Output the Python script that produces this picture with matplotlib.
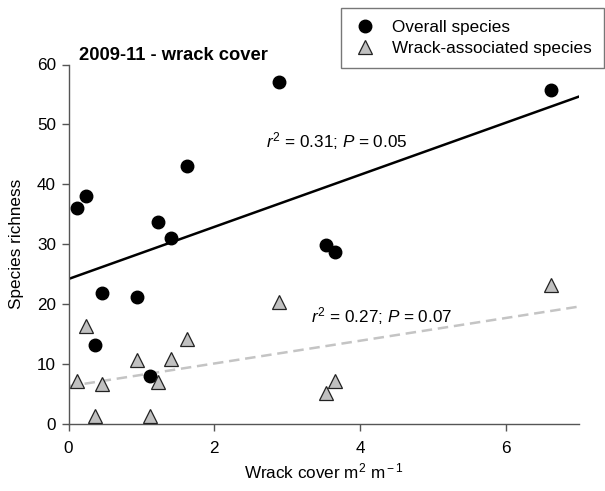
import numpy as np
import matplotlib
matplotlib.use("Agg")
import matplotlib.pyplot as plt

plt.rcParams['font.family'] = ['Liberation Sans', 'DejaVu Sans']
plt.rcParams['mathtext.fontset'] = 'custom'
plt.rcParams['mathtext.rm'] = 'Liberation Sans'
plt.rcParams['mathtext.it'] = 'Liberation Sans:italic'

# wrack cover (m2 m-1) per site
wrack_cover = [0.12, 0.24, 2.88, 1.63, 1.23, 1.40, 3.53, 3.66, 0.46, 0.94, 0.36, 1.12, 6.61]
# species richness at the same sites
overall_species = [36.1, 38.0, 57.1, 43.1, 33.7, 31.1, 29.9, 28.7, 21.9, 21.2, 13.2, 8.0, 55.8]
wrack_species = [7.2, 16.4, 20.4, 14.2, 6.95, 10.8, 5.2, 7.2, 6.7, 10.7, 1.4, 1.4, 23.2]

# regression lines as drawn (intercept, slope)
overall_fit = (24.2, 4.35)
wrack_fit = (6.3, 1.9)

overall_stats = "$\\it{r}^{\\rm 2}$ = 0.31; $\\it{P}$ = 0.05"
wrack_stats = "$\\it{r}^{\\rm 2}$ = 0.27; $\\it{P}$ = 0.07"

FS = 12.3

fig = plt.figure(figsize=(6.05, 4.91), dpi=100)
ax = fig.add_axes([68.5 / 605, 1 - 424 / 491, (579 - 68.5) / 605, (424 - 64.5) / 491])

x_line = np.array([0, 7])
ax.plot(x_line, overall_fit[0] + overall_fit[1] * x_line, color="black", lw=1.8, zorder=2)
ax.plot(x_line, wrack_fit[0] + wrack_fit[1] * x_line, color="#c4c4c4", lw=1.8,
        dashes=(4.2, 2.3), zorder=2)

ax.plot(wrack_cover, overall_species, "o", color="black", ms=9, ls="none",
        label="Overall species", zorder=3)
ax.plot(wrack_cover, wrack_species, "^", mfc="#c0c0c0", mec="#222222", mew=0.9, ms=9.6,
        ls="none", label="Wrack-associated species", zorder=4)

ax.set_xlim(0, 7)
ax.set_ylim(0, 60)
ax.set_xticks([0, 2, 4, 6])
ax.set_yticks([0, 10, 20, 30, 40, 50, 60])
ax.spines['top'].set_visible(False)
ax.spines['right'].set_visible(False)
for side in ('left', 'bottom'):
    ax.spines[side].set_color("#555555")
    ax.spines[side].set_linewidth(1.0)
ax.tick_params(direction="out", length=5, width=1.0, color="#555555", labelsize=FS)
ax.tick_params(axis="x", pad=7)
ax.tick_params(axis="y", pad=4)

ax.set_xlabel("Wrack cover m$^{\\rm 2}$ m$^{\\rm -1}$", fontsize=FS, labelpad=4)
ax.set_ylabel("Species richness", fontsize=FS, labelpad=9)

fig.text(79 / 605, 1 - 59.5 / 491, "2009-11 - wrack cover", fontsize=13.2, fontweight="bold",
         ha="left", va="baseline")

ax.text(2.71, 46.2, overall_stats, fontsize=FS, ha="left", va="baseline")
ax.text(3.32, 17.0, wrack_stats, fontsize=FS, ha="left", va="baseline")

leg = fig.legend(loc="upper left", bbox_to_anchor=(341 / 605, 1 - 8 / 491), fontsize=FS,
                 frameon=True, fancybox=False, edgecolor="#555555", borderpad=0.7,
                 handletextpad=0.9, handlelength=1.4, labelspacing=0.35, borderaxespad=0)
leg.get_frame().set_linewidth(1.0)

fig.savefig("out.png", dpi=100)
